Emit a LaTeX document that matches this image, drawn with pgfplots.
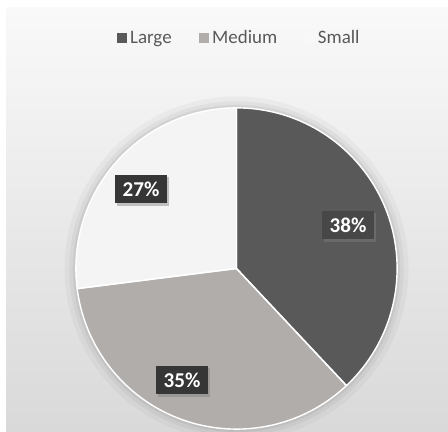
\documentclass[border=0pt]{standalone}
\usepackage{pgfplots}
\pgfplotsset{compat=1.18}
\usepackage{pgfplotstable}
\usepackage{fontspec}
\setmainfont{Carlito}
\usetikzlibrary{shadows}
\definecolor{cLarge}{HTML}{595959}
\definecolor{cMedium}{HTML}{B1ADAB}
\definecolor{cSmall}{HTML}{F4F4F4}
\definecolor{bgtop}{HTML}{F9F9F9}
\definecolor{bgbot}{HTML}{D9D9D9}
\definecolor{lbl}{HTML}{363636}
\definecolor{legtext}{HTML}{595959}

% value, label-box centre (px, y measured upward)
\pgfplotstableread{
label value lx ly
Large 38 348 207
Medium 35 182 52
Small 27 141 243
}\piedata

\begin{document}
\begin{tikzpicture}
\pgfplotstablegetelem{0}{value}\of\piedata \pgfmathtruncatemacro\vA{\pgfplotsretval}
\pgfplotstablegetelem{1}{value}\of\piedata \pgfmathtruncatemacro\vB{\pgfplotsretval}
\pgfplotstablegetelem{2}{value}\of\piedata \pgfmathtruncatemacro\vC{\pgfplotsretval}
\pgfplotstablegetelem{0}{lx}\of\piedata \let\lxA\pgfplotsretval
\pgfplotstablegetelem{0}{ly}\of\piedata \let\lyA\pgfplotsretval
\pgfplotstablegetelem{1}{lx}\of\piedata \let\lxB\pgfplotsretval
\pgfplotstablegetelem{1}{ly}\of\piedata \let\lyB\pgfplotsretval
\pgfplotstablegetelem{2}{lx}\of\piedata \let\lxC\pgfplotsretval
\pgfplotstablegetelem{2}{ly}\of\piedata \let\lyC\pgfplotsretval
\pgfmathsetmacro\aS{90}
\pgfmathsetmacro\aA{90-3.6*\vA}
\pgfmathsetmacro\aB{\aA-3.6*\vB}
\pgfmathsetmacro\aC{\aB-3.6*\vC}
\def\R{4.015cm}
\def\C{(axis cs:236.5,163.5)}
\begin{axis}[
  scale only axis, width=11.2cm, height=10.8cm,
  xmin=0, xmax=448, ymin=0, ymax=432,
  axis lines=none, clip=true,
  legend image code/.code={\fill[#1, draw=none] (0cm,-0.12cm) rectangle (0.24cm,0.12cm);},
  legend columns=3,
  legend style={at={(axis cs:240,394)}, anchor=center, draw=none, fill=none,
    font=\fontsize{13.5}{15}\selectfont, text=legtext,
    /tikz/every even column/.append style={column sep=17pt},
    nodes={inner xsep=2.5pt},
    inner sep=0pt},
]
\fill[white] (axis cs:0,0) rectangle (axis cs:448,432);
\shade[top color=bgtop, bottom color=bgbot] (axis cs:6,0) rectangle (axis cs:448,424);
% soft shadow around pie
\fill[black, opacity=0.03] \C circle[radius=4.3cm];
\fill[black, opacity=0.04] \C circle[radius=4.18cm];
\fill[black, opacity=0.05] \C circle[radius=4.09cm];
% slices
\fill[cLarge] \C -- +(\aS:\R) arc[start angle=\aS, end angle=\aA, radius=\R] -- cycle;
\fill[cMedium] \C -- +(\aA:\R) arc[start angle=\aA, end angle=\aB, radius=\R] -- cycle;
\fill[cSmall] \C -- +(\aB:\R) arc[start angle=\aB, end angle=\aC, radius=\R] -- cycle;
\draw[white, line width=1pt, line join=round] \C -- +(\aS:\R) arc[start angle=\aS, end angle=\aA, radius=\R] -- cycle;
\draw[white, line width=1pt, line join=round] \C -- +(\aA:\R) arc[start angle=\aA, end angle=\aB, radius=\R] -- cycle;
\draw[white, line width=1pt, line join=round] \C -- +(\aB:\R) arc[start angle=\aB, end angle=\aC, radius=\R] -- cycle;
% labels
\tikzset{lblbox/.style={fill=lbl, text=white, font=\fontsize{15}{17}\selectfont\bfseries,
  minimum width=1.3cm, minimum height=0.72cm, inner sep=1pt,
  drop shadow={opacity=0.45, shadow xshift=1.5pt, shadow yshift=-1.5pt}}}
\node[lblbox, fill=cLarge!80!black] at (axis cs:\lxA,\lyA) {\vA\%};
\node[lblbox] at (axis cs:\lxB,\lyB) {\vB\%};
\node[lblbox] at (axis cs:\lxC,\lyC) {\vC\%};
% legend
\addlegendimage{fill=cLarge}
\addlegendentry{Large}
\addlegendimage{fill=cMedium}
\addlegendentry{Medium}
\addlegendimage{fill=cSmall!60!white}
\addlegendentry{Small}
\end{axis}
\end{tikzpicture}
\end{document}
